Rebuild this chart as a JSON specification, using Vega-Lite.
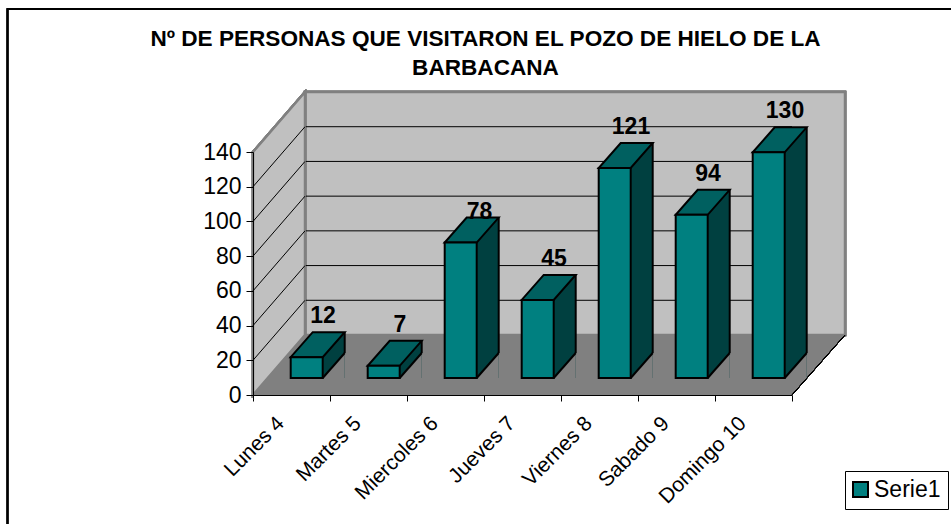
{
"$schema":"https://vega.github.io/schema/vega-lite/v6.json",
"width":539,"height":243,
"autosize":{"type":"none"},
"padding":{"left":253,"top":152,"right":159,"bottom":129},
"background":"white",
"title":{"text":["Nº DE PERSONAS QUE VISITARON EL POZO DE HIELO DE LA","BARBACANA"],"font":"Liberation Sans","fontSize":22.6,"fontWeight":"bold","color":"black","anchor":"middle","dx":-37,"offset":-74,"lineHeight":29},
"config":{"view":{"stroke":null},"font":"Liberation Sans"},
"data":{"values":[
{"day":"Lunes 4","value":12,"serie":"Serie1"},
{"day":"Martes 5","value":7,"serie":"Serie1"},
{"day":"Miercoles 6","value":78,"serie":"Serie1"},
{"day":"Jueves 7","value":45,"serie":"Serie1"},
{"day":"Viernes 8","value":121,"serie":"Serie1"},
{"day":"Sabado 9","value":94,"serie":"Serie1"},
{"day":"Domingo 10","value":130,"serie":"Serie1"}]},
"encoding":{
"x":{"field":"day","type":"nominal","sort":null,"title":null,
 "scale":{"type":"band","paddingInner":0,"paddingOuter":0,"domain":["Lunes 4","Martes 5","Miercoles 6","Jueves 7","Viernes 8","Sabado 9","Domingo 10"]},
 "axis":{"labelAngle":-45,"labelAlign":"right","labelBaseline":"middle","labelOffset":-11,"labelFont":"Liberation Sans","labelFontSize":21,"labelColor":"black","tickColor":"black","domainColor":"black","tickSize":6,"labelPadding":19,"tickBand":"extent","grid":false,"zindex":1,"labelLimit":200,"labelOverlap":false}},
"y":{"field":"value","type":"quantitative","title":null,"stack":null,
 "scale":{"domain":[0,140],"nice":false},
 "axis":{"values":[0,20,40,60,80,100,120,140],"labelFont":"Liberation Sans","labelFontSize":23,"labelColor":"black","tickColor":"black","domainColor":"black","tickSize":7,"labelPadding":5,"grid":false,"zindex":1}}
},
"layer":[
{"mark":{"type":"point","shape":"M-284,140L-284,-386L670,-386","size":4,"filled":false,"stroke":"black","strokeWidth":1.5,"opacity":1},
 "encoding":{"x":{"datum":"Lunes 4","type":"nominal"},"y":{"datum":0}}},
{"mark":{"type":"point","shape":"M13.5,-60L553.5,-60L553.5,-303L13.5,-303Z","size":4,"filled":true,"fill":"#c0c0c0","stroke":"#808080","strokeWidth":2.5,"opacity":1},
 "encoding":{"x":{"datum":"Lunes 4","type":"nominal"},"y":{"datum":0}}},
{"mark":{"type":"point","shape":"M-38.5,0L13.5,-60L13.5,-303L-38.5,-243Z","size":4,"filled":true,"fill":"#c0c0c0","stroke":"#808080","strokeWidth":2.5,"opacity":1},
 "encoding":{"x":{"datum":"Lunes 4","type":"nominal"},"y":{"datum":0}}},
{"data":{"values":[{"tick":20},{"tick":40},{"tick":60},{"tick":80},{"tick":100},{"tick":120}]},
 "mark":{"type":"rule","stroke":"black","strokeWidth":1,"xOffset":53,"yOffset":-60},
 "encoding":{"x":{"value":0},"x2":{"value":539},"y":{"field":"tick","type":"quantitative"}}},
{"data":{"values":[{"tick":20},{"tick":40},{"tick":60},{"tick":80},{"tick":100},{"tick":120}]},
 "mark":{"type":"point","shape":"M-38.5,0L13.5,-60","size":4,"filled":false,"stroke":"black","strokeWidth":1,"opacity":1},
 "encoding":{"x":{"datum":"Lunes 4","type":"nominal"},"y":{"field":"tick","type":"quantitative"}}},
{"mark":{"type":"point","shape":"M-38.5,0L500.5,0L553.5,-60L13.5,-60Z","size":4,"filled":true,"fill":"#808080","stroke":"#808080","strokeWidth":1,"opacity":1},
 "encoding":{"x":{"datum":"Lunes 4","type":"nominal"},"y":{"datum":0}}},
{"mark":{"type":"point","shape":"M500.5,0L553.5,-60","size":4,"filled":false,"stroke":"black","strokeWidth":1,"opacity":1},
 "encoding":{"x":{"datum":"Lunes 4","type":"nominal"},"y":{"datum":0}}},
{"mark":{"type":"bar","width":22,"xOffset":42.2,"yOffset":-42,"y2Offset":-42,"fill":"#004040"},"encoding":{"y2":{"datum":0}}},
{"mark":{"type":"point","shape":"M16,0L38,0L38,-25L16,-25Z","size":4,"filled":true,"fill":"#004040","strokeWidth":0,"opacity":1,"xOffset":15.2,"yOffset":-17},
 "encoding":{"y":{"datum":0}}},
{"mark":{"type":"point","shape":"M16,0L38,-25L38,0Z","size":4,"filled":true,"fill":"#808080","strokeWidth":0,"opacity":1,"xOffset":15.2,"yOffset":-17},
 "encoding":{"y":{"datum":0}}},
{"mark":{"type":"point","shape":"M16,0L38,-25","size":4,"filled":false,"stroke":"black","strokeWidth":2,"opacity":1,"xOffset":15.2,"yOffset":-17},
 "encoding":{"y":{"datum":0}}},
{"mark":{"type":"rule","stroke":"black","strokeWidth":2,"xOffset":53.2,"yOffset":-42,"y2Offset":-42},
 "encoding":{"y2":{"datum":0}}},
{"mark":{"type":"point","shape":"M-16,0L16,0L38,-25L6,-25Z","size":4,"filled":true,"fill":"#006060","stroke":"black","strokeWidth":2,"opacity":1,"xOffset":15.2,"yOffset":-17},
 "encoding":{}},
{"mark":{"type":"bar","width":32,"xOffset":15.2,"yOffset":-17,"y2Offset":-17,"stroke":"black","strokeWidth":2},
 "encoding":{"y2":{"datum":0},"color":{"field":"serie","type":"nominal","scale":{"range":["#008080"]},
  "legend":{"title":null,"orient":"none","legendX":592,"legendY":319,"strokeColor":"black","fillColor":"white","padding":7,"symbolType":"square","symbolSize":225,"symbolOffset":-3,"symbolStrokeColor":"black","symbolStrokeWidth":2,"labelFont":"Liberation Sans","labelFontSize":23,"labelColor":"black","labelOffset":2}}}},
{"transform":[{"filter":"datum.value != 78"}],
 "mark":{"type":"text","font":"Liberation Sans","fontSize":23,"fontWeight":"bold","color":"black","baseline":"middle","align":"center","xOffset":31.5,"yOffset":-58},
 "encoding":{"text":{"field":"value","type":"quantitative"}}},
{"transform":[{"filter":"datum.value == 78"}],
 "mark":{"type":"text","font":"Liberation Sans","fontSize":23,"fontWeight":"bold","color":"black","baseline":"middle","align":"center","xOffset":34,"yOffset":-48},
 "encoding":{"text":{"field":"value","type":"quantitative"}}}
]
}
